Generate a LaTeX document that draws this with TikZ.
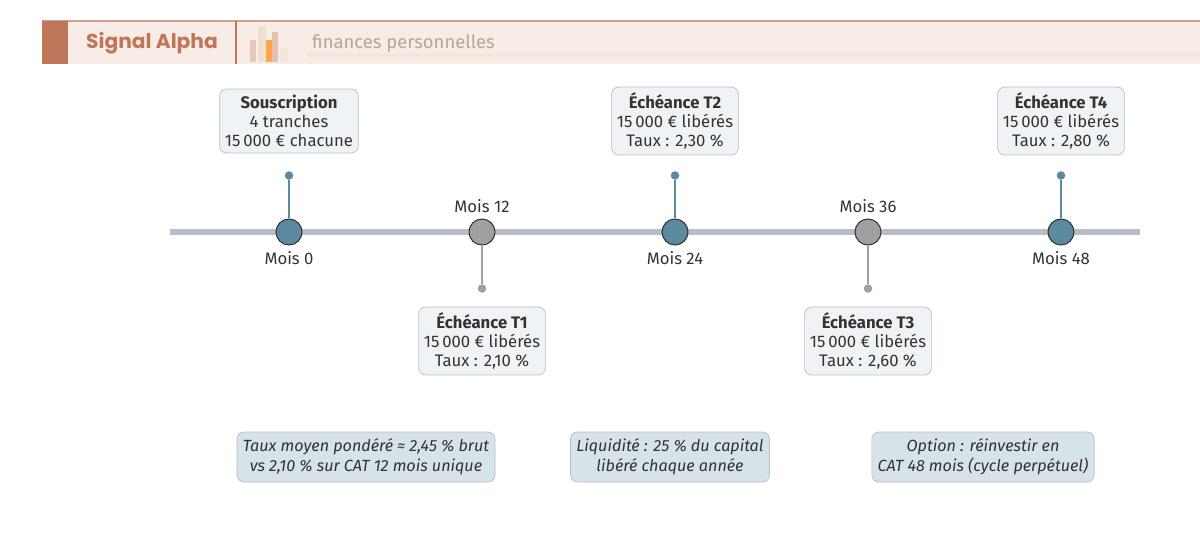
\documentclass[tikz,border=0pt]{standalone}
\usepackage{fontspec}
\setmainfont{Fira Sans}
\newfontfamily\titlefont{Poppins}
\usetikzlibrary{positioning}
\definecolor{brandorange}{RGB}{192,118,90}
\definecolor{headbg}{RGB}{247,236,230}
\definecolor{axisgrey}{RGB}{184,190,198}
\definecolor{mstblue}{RGB}{91,138,158}
\definecolor{mstgrey}{RGB}{160,160,160}
\definecolor{boxfill}{RGB}{240,243,246}
\definecolor{notefill}{RGB}{214,227,232}
\definecolor{inkdark}{RGB}{51,51,51}

\tikzset{
  evbox/.style={draw=axisgrey, fill=boxfill, rounded corners=4pt, align=center,
    font=\fontsize{9.5}{11}\selectfont, text=inkdark, inner sep=3pt, minimum height=1.28cm},
  notebox/.style={draw=axisgrey, fill=notefill, rounded corners=4pt, align=center,
    font=\fontsize{9.2}{11.5}\selectfont\itshape, text=inkdark, minimum height=1cm},
  mstone/.style={circle, draw=inkdark, line width=0.6pt, minimum size=0.52cm, inner sep=0pt},
  tipdot/.style={circle, inner sep=0pt, minimum size=0.17cm},
  mlabel/.style={font=\fontsize{9.5}{11}\selectfont, text=inkdark}
}

\begin{document}
\begin{tikzpicture}[x=0.02cm, y=-0.02cm]
\useasboundingbox (0,0) rectangle (1200,541);

% Header band
\fill[headbg] (42,21) rectangle (1200,64);
\draw[brandorange!70, line width=0.6pt] (42,21) -- (1200,21);
\fill[brandorange] (42,21) rectangle (68,64);
\draw[brandorange, line width=0.6pt] (236,21) -- (236,64);
\node[font=\titlefont\bfseries\fontsize{11.5}{14}\selectfont, text=brandorange] (title) at (152,43) {Signal Alpha};
\fill[brandorange!40] (250,40) rectangle (256,62);
\fill[brown!25] (258,26) rectangle (266,62);
\fill[orange!70] (266,40) rectangle (272,62);
\fill[brandorange!45] (272,32) rectangle (278,62);
\fill[brown!20] (280,48) rectangle (288,62);
\node[anchor=west, font=\fontsize{10.5}{12}\selectfont, text=brown!40!gray!70] (subtitle) at (306,44) {finances personnelles};
\fill[brown!20] (307,53) rectangle (1200,57);

% Axis
\draw[axisgrey, line width=3pt] (170,232) -- (1140,232);

% Milestones
\node[mstone, fill=mstblue] (m0) at (289,232) {};
\node[mstone, fill=mstgrey] (m12) at (482,232) {};
\node[mstone, fill=mstblue] (m24) at (675,232) {};
\node[mstone, fill=mstgrey] (m36) at (868,232) {};
\node[mstone, fill=mstblue] (m48) at (1061,232) {};

\node[mlabel, below=0pt of m0] {Mois 0};
\node[mlabel, above=0pt of m12] {Mois 12};
\node[mlabel, below=0pt of m24] {Mois 24};
\node[mlabel, above=0pt of m36] {Mois 36};
\node[mlabel, below=0pt of m48] {Mois 48};

% Stems
\foreach \m in {m0,m24,m48}{
  \node[tipdot, fill=mstblue] (\m t) at ([yshift=0.86cm]\m.north) {};
  \draw[mstblue, line width=1pt] (\m.north) -- (\m t);
}
\foreach \m in {m12,m36}{
  \node[tipdot, fill=mstgrey] (\m t) at ([yshift=-0.86cm]\m.south) {};
  \draw[mstgrey, line width=1pt] (\m.south) -- (\m t);
}

% Event boxes
\node[evbox] (sub) at (289,121) {\textbf{Souscription}\\4 tranches\\15\,000 € chacune};
\node[evbox] (t2) at (675,121) {\textbf{Échéance T2}\\15\,000 € libérés\\Taux : 2,30 \%};
\node[evbox] (t4) at (1061,121) {\textbf{Échéance T4}\\15\,000 € libérés\\Taux : 2,80 \%};
\node[evbox] (t1) at (482,341) {\textbf{Échéance T1}\\15\,000 € libérés\\Taux : 2,10 \%};
\node[evbox] (t3) at (868,341) {\textbf{Échéance T3}\\15\,000 € libérés\\Taux : 2,60 \%};

% Notes
\node[notebox, minimum width=5cm] (n1) at (366,457) {Taux moyen pondéré ≈ 2,45 \% brut\\vs 2,10 \% sur CAT 12 mois unique};
\node[notebox, minimum width=3.56cm] (n2) at (670,457) {Liquidité : 25 \% du capital\\libéré chaque année};
\node[notebox, minimum width=4.32cm] (n3) at (983,457) {Option : réinvestir en\\CAT 48 mois (cycle perpétuel)};
\end{tikzpicture}
\end{document}
